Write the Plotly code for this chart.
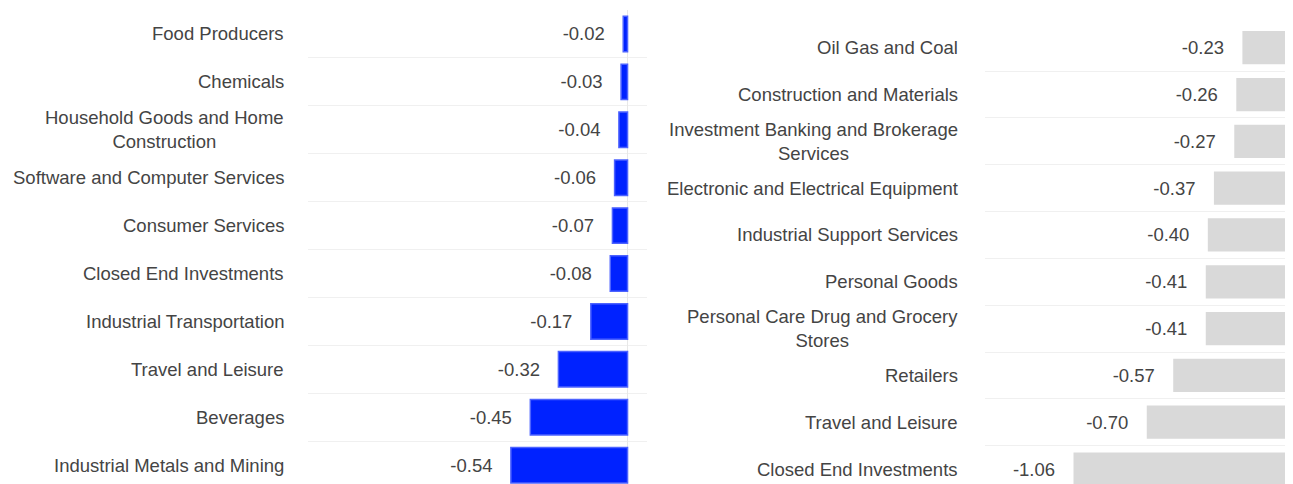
import plotly.graph_objects as go

left_sectors = ['Food Producers', 'Chemicals', 'Household Goods and Home Construction',
                'Software and Computer Services', 'Consumer Services', 'Closed End Investments',
                'Industrial Transportation', 'Travel and Leisure', 'Beverages', 'Industrial Metals and Mining']
left_labels = ['Food Producers', 'Chemicals', 'Household Goods and Home<br>Construction',
               'Software and Computer Services', 'Consumer Services', 'Closed End Investments',
               'Industrial Transportation', 'Travel and Leisure', 'Beverages', 'Industrial Metals and Mining']
left_values = [-0.02, -0.03, -0.04, -0.06, -0.07, -0.08, -0.17, -0.32, -0.45, -0.54]

right_sectors = ['Oil Gas and Coal', 'Construction and Materials', 'Investment Banking and Brokerage Services',
                 'Electronic and Electrical Equipment', 'Industrial Support Services', 'Personal Goods',
                 'Personal Care Drug and Grocery Stores', 'Retailers', 'Travel and Leisure',
                 'Closed End Investments']
right_labels = ['Oil Gas and Coal', 'Construction and Materials', 'Investment Banking and Brokerage<br>Services',
                'Electronic and Electrical Equipment', 'Industrial Support Services', 'Personal Goods',
                'Personal Care Drug and Grocery<br>Stores', 'Retailers', 'Travel and Leisure',
                'Closed End Investments']
right_values = [-0.23, -0.26, -0.27, -0.37, -0.40, -0.41, -0.41, -0.57, -0.70, -1.06]

W, H = 1293, 484
FONT = 'Arial, Liberation Sans, sans-serif'
TEXT = '#444444'
GRID = '#f0f0f0'
PAD = '\u00a0\u00a0\u00a0'
FS = 18.5

fig = go.Figure()

fig.add_trace(go.Bar(x=left_values, y=left_sectors, orientation='h', width=0.74,
                     marker=dict(color='#0022ff', line=dict(color='#4d63ff', width=1.5)),
                     text=[f'{v:.2f}{PAD}' for v in left_values], textposition='outside',
                     constraintext='none', cliponaxis=False,
                     textfont=dict(family=FONT, size=FS, color=TEXT),
                     hoverinfo='x+y', showlegend=False, xaxis='x', yaxis='y'))

fig.add_trace(go.Bar(x=right_values, y=right_sectors, orientation='h', width=0.71,
                     marker=dict(color='#d9d9d9', line=dict(width=0)),
                     text=[f'{v:.2f}{PAD}' for v in right_values], textposition='outside',
                     constraintext='none', cliponaxis=False,
                     textfont=dict(family=FONT, size=FS, color=TEXT),
                     hoverinfo='x+y', showlegend=False, xaxis='x2', yaxis='y2'))

annotations = []
for sector, label in zip(left_sectors, left_labels):
    annotations.append(dict(x=0, xref='x domain', y=sector, yref='y', text=label, showarrow=False,
                            xanchor='right', align='center', xshift=-22,
                            font=dict(family=FONT, size=FS, color=TEXT)))
for sector, label in zip(right_sectors, right_labels):
    annotations.append(dict(x=0, xref='x2 domain', y=sector, yref='y2', text=label, showarrow=False,
                            xanchor='right', align='center', xshift=-25,
                            font=dict(family=FONT, size=FS, color=TEXT)))

axis_x = dict(showgrid=False, showticklabels=False, ticks='', zeroline=True, zerolinecolor='#e8e8e8',
              zerolinewidth=1, showline=False, fixedrange=True)
axis_y = dict(type='category', categoryorder='array', showticklabels=False, ticks='', showgrid=True,
              gridcolor=GRID, gridwidth=1, tickson='boundaries', zeroline=False, showline=False,
              fixedrange=True)

# the page body adds an 8px offset, so the figure runs past the right and bottom window edges
fig.update_layout(
    width=W, height=H,
    margin=dict(l=0, r=0, t=0, b=0),
    paper_bgcolor='white', plot_bgcolor='white',
    font=dict(family=FONT, size=FS, color=TEXT),
    xaxis=dict(axis_x, domain=[300 / W, 639 / W], range=[-1.479, 0.09], anchor='y'),
    yaxis=dict(axis_y, domain=[0, 1 - 2 / H], categoryarray=left_sectors, range=[9.56, -0.5], anchor='x'),
    xaxis2=dict(axis_x, domain=[977 / W, 1.0], range=[-1.495, 0.058], anchor='y2'),
    yaxis2=dict(axis_y, domain=[0, 1 - 16.3 / H], categoryarray=right_sectors, range=[9.49, -0.5],
                anchor='x2'),
    annotations=annotations,
)

fig.write_html('out.html')
